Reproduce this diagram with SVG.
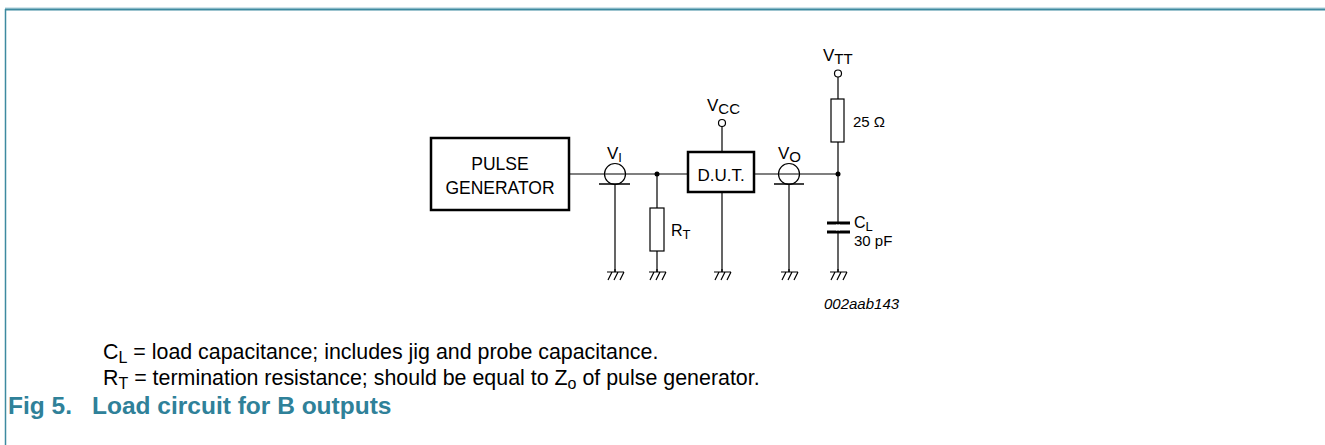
<svg xmlns="http://www.w3.org/2000/svg" width="1325" height="445" viewBox="0 0 1325 445">
<style>
.w{fill:none;stroke:#000;stroke-width:1.2}
.box{fill:#fff;stroke:#000;stroke-width:2.5}
.res{fill:#fff;stroke:#000;stroke-width:1.2}
.t{font-family:"Liberation Sans",Arial,sans-serif;fill:#000}
.n{font-family:"Liberation Sans",Arial,sans-serif;font-size:21.4px;fill:#000}
.ns{font-size:16px}
.f{font-family:"Liberation Sans",Arial,sans-serif;font-size:24.5px;font-weight:bold;fill:#2f8199}
</style>
<defs>
<g id="gnd">
<path class="w" d="M0,-3V0M-8,0H9M-3,0L-7,8M3,0L-1,8M9,0L5,8"/>
</g>
</defs>
<g id="frame">
<line x1="5" y1="8" x2="1325" y2="8" stroke="#a9cdd8" stroke-width="1"/>
<line x1="5" y1="9.5" x2="1325" y2="9.5" stroke="#3d8aa0" stroke-width="2"/>
<line x1="5.5" y1="9" x2="5.5" y2="445" stroke="#3d8aa0" stroke-width="1.5"/>
</g>
<g id="connectors">
<path class="w" d="M569,174H838"/>
<path class="w" d="M615,184V272M657,174V272M722,192V272M789,184V272M838,77V272"/>
<path class="w" d="M722,126V152"/>
<line x1="599" y1="184" x2="630" y2="184" stroke="#000" stroke-width="1.5"/>
<line x1="774" y1="184" x2="804" y2="184" stroke="#000" stroke-width="1.5"/>
<circle cx="657" cy="174" r="2.5"/>
<circle cx="838" cy="174" r="2.5"/>
</g>
<g id="pulse-generator">
<rect class="box" x="431" y="138" width="138" height="72"/>
<text class="t" x="500" y="170" text-anchor="middle" font-size="17.5">PULSE</text>
<text class="t" x="500" y="194" text-anchor="middle" font-size="17.5">GENERATOR</text>
</g>
<g id="vi">
<circle cx="615" cy="174" r="10.5" class="w"/>
<text class="t" x="607" y="159" font-size="17">V<tspan font-size="13" dy="3">I</tspan></text>
</g>
<g id="rt">
<rect class="res" x="650" y="208" width="14" height="43"/>
<text class="t" x="671" y="236" font-size="16">R<tspan font-size="13" dy="3">T</tspan></text>
</g>
<g id="dut">
<rect class="box" x="688" y="152" width="66" height="40"/>
<text class="t" x="721" y="181" text-anchor="middle" font-size="17">D.U.T.</text>
</g>
<g id="vcc">
<circle cx="722" cy="123" r="3.5" fill="#fff" stroke="#000" stroke-width="1.2"/>
<text class="t" x="707" y="111" font-size="17">V<tspan font-size="15" dy="3">CC</tspan></text>
</g>
<g id="vo">
<circle cx="789" cy="174" r="10.5" class="w"/>
<text class="t" x="778" y="159" font-size="17">V<tspan font-size="15" dy="3">O</tspan></text>
</g>
<g id="vtt">
<circle cx="838" cy="73.5" r="3.5" fill="#fff" stroke="#000" stroke-width="1.2"/>
<text class="t" x="823" y="61" font-size="17">V<tspan font-size="15" dy="3">TT</tspan></text>
</g>
<g id="r25">
<rect class="res" x="831" y="99" width="13" height="43"/>
<text class="t" x="853" y="127" font-size="15">25 Ω</text>
</g>
<g id="cl">
<path stroke="#000" stroke-width="3" d="M827,223H850M827,232H850"/>
<rect x="836" y="224.5" width="4" height="6" fill="#fff"/>
<text class="t" x="854" y="228" font-size="16">C<tspan font-size="13" dy="3">L</tspan></text>
<text class="t" x="854" y="246" font-size="15">30 pF</text>
</g>
<g id="grounds">
<use href="#gnd" x="615" y="272"/>
<use href="#gnd" x="657" y="272"/>
<use href="#gnd" x="722" y="272"/>
<use href="#gnd" x="789" y="272"/>
<use href="#gnd" x="838" y="272"/>
</g>
<text class="t" x="824" y="309" font-size="15" font-style="italic">002aab143</text>
<text class="n" x="103" y="359">C<tspan class="ns" dy="4">L</tspan><tspan dy="-4"> = load capacitance; includes jig and probe capacitance.</tspan></text>
<text class="n" x="103" y="385">R<tspan class="ns" dy="4">T</tspan><tspan dy="-4"> = termination resistance; should be equal to Z</tspan><tspan class="ns" dy="4">o</tspan><tspan dy="-4"> of pulse generator.</tspan></text>
<text class="f" x="8" y="414">Fig 5.</text>
<text class="f" x="92" y="414">Load circuit for B outputs</text>
</svg>
